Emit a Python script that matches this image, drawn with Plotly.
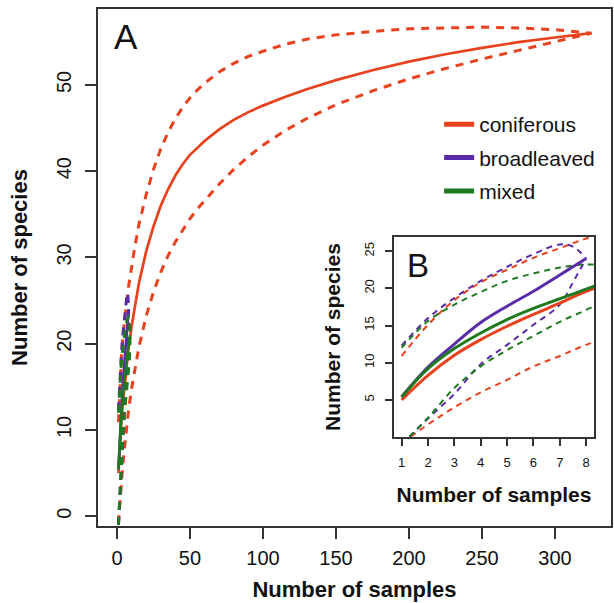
import plotly.graph_objects as go

# ---------------- data ----------------
con_x = [1, 2, 3, 4, 5, 6, 7, 8, 10, 12, 15, 20, 25, 30, 35, 40, 45, 50, 55, 60, 70,
         80, 90, 100, 115, 130, 150, 175, 200, 225, 250, 275, 300, 325]
con_mean = [5.0, 8.3, 11.0, 13.1, 14.9, 16.5, 18.0, 19.6, 22.0, 24.2, 27.0, 30.7,
            33.6, 36.0, 37.9, 39.5, 40.8, 41.9, 42.75, 43.5, 44.85, 45.95, 46.85, 47.6,
            48.6, 49.5, 50.55, 51.7, 52.7, 53.55, 54.3, 54.95, 55.5, 56.0]
con_upper = [10.9, 15.1, 18.4, 20.8, 22.5, 24.1, 25.4, 26.7, 28.9, 31.0, 33.8,
             37.3, 40.2, 42.6, 44.5, 46.1, 47.4, 48.5, 49.4, 50.2, 51.5, 52.5, 53.3,
             53.9, 54.7, 55.3, 55.8, 56.2, 56.5, 56.6, 56.7, 56.6, 56.4, 56.0]
con_lower = [-0.8, 1.7, 4.0, 6.0, 7.7, 9.5, 10.9, 12.4, 14.8, 16.8, 19.6, 23.2,
             26.0, 28.3, 30.2, 31.8, 33.2, 34.5, 35.6, 36.6, 38.5, 40.2, 41.7, 43.0,
             44.7, 46.1, 47.7, 49.3, 50.7, 51.9, 53.0, 54.0, 55.0, 56.0]

brd_x = [1, 2, 3, 4, 5, 6, 7, 7.5, 8]
brd_mean = [5.4, 9.4, 12.5, 15.4, 17.6, 19.6, 21.8, 22.9, 24.0]
brd_upper = [12.3, 16.0, 18.7, 21.0, 22.9, 24.6, 25.9, 25.6, 24.0]
brd_lower = [-1.0, 2.5, 5.8, 9.8, 12.4, 15.1, 17.8, 20.8, 24.0]

mix_x = [1, 2, 3, 4, 5, 6, 7, 8, 8.5, 9]
mix_mean = [5.4, 9.2, 11.9, 14.0, 15.8, 17.3, 18.6, 19.9, 20.5, 21.0]
mix_upper = [12.0, 15.6, 17.8, 19.5, 21.0, 22.0, 22.8, 23.2, 23.0, 21.0]
mix_lower = [-1.0, 2.6, 6.6, 9.5, 11.7, 13.6, 15.5, 17.1, 18.1, 21.0]

main_xticks = [0, 50, 100, 150, 200, 250, 300]
main_yticks = [0, 10, 20, 30, 40, 50]
inset_xticks = [1, 2, 3, 4, 5, 6, 7, 8]
inset_yticks = [5, 10, 15, 20, 25]

names = ["coniferous", "broadleaved", "mixed"]
colors = ["#E8411E", "#5A2CA8", "#1F7A1F"]

series = [
    (con_x, con_mean, con_upper, con_lower),
    (brd_x, brd_mean, brd_upper, brd_lower),
    (mix_x, mix_mean, mix_upper, mix_lower),
]

FONT = "Liberation Sans, Arial, sans-serif"
fig = go.Figure()

# main panel
for (x, m, u, l), c in zip(series, colors):
    for ci in (u, l):
        fig.add_trace(go.Scatter(x=x, y=ci, mode="lines", showlegend=False,
                                 line=dict(color=c, width=3, dash="8px,7px"),
                                 xaxis="x", yaxis="y", hoverinfo="skip"))
    fig.add_trace(go.Scatter(x=x, y=m, mode="lines", showlegend=False,
                             line=dict(color=c, width=2.7),
                             xaxis="x", yaxis="y", hoverinfo="skip"))

# inset panel
for (x, m, u, l), c in zip(series, colors):
    for ci in (u, l):
        fig.add_trace(go.Scatter(x=x, y=ci, mode="lines", showlegend=False,
                                 line=dict(color=c, width=2, dash="6px,5px", shape="spline"),
                                 xaxis="x2", yaxis="y2", hoverinfo="skip"))
for (x, m, u, l), c in zip(series, colors):
    fig.add_trace(go.Scatter(x=x, y=m, mode="lines", showlegend=False,
                             line=dict(color=c, width=3, shape="spline"),
                             xaxis="x2", yaxis="y2", hoverinfo="skip"))

# legend entries
for n, c in zip(names, colors):
    fig.add_trace(go.Scatter(x=[None], y=[None], mode="lines", name=n,
                             legendgroup=n, line=dict(color=c, width=5)))

axis_common = dict(showline=True, mirror=True, linecolor="#333333", linewidth=1.5,
                   ticks="outside", tickcolor="#333333", showgrid=False,
                   zeroline=False, automargin=False)

fig.update_layout(
    width=614, height=603,
    margin=dict(l=98, r=3, t=9, b=77),
    paper_bgcolor="white", plot_bgcolor="white",
    font=dict(family=FONT, color="#111111"),
    xaxis=dict(**axis_common, range=[-13, 338.4], tickvals=main_xticks,
               ticklen=11, tickwidth=1.5, tickfont=dict(size=20), ticklabelstandoff=2,
               title=dict(text="<b>Number of samples</b>", font=dict(size=22), standoff=14),
               domain=[0, 1]),
    yaxis=dict(**axis_common, range=[-1.13, 58.8], tickvals=main_yticks,
               ticklen=11, tickwidth=1.5, tickfont=dict(size=20), tickangle=-90,
               ticklabelstandoff=6,
               title=dict(text="<b>Number of species</b>", font=dict(size=22), standoff=20),
               domain=[0, 1]),
    xaxis2=dict(**axis_common, range=[0.71, 8.3], tickvals=inset_xticks,
                ticklen=7, tickwidth=1.5, tickfont=dict(size=13), anchor="y2",
                ticklabelstandoff=6,
                title=dict(text="<b>Number of samples</b>", font=dict(size=21), standoff=18),
                domain=[0.577, 0.967]),
    yaxis2=dict(**axis_common, range=[0, 26.9], tickvals=inset_yticks,
                ticklen=7, tickwidth=1.5, tickfont=dict(size=13), tickangle=-90,
                anchor="x2", ticklabelstandoff=6,
                title=dict(text="<b>Number of species</b>", font=dict(size=21), standoff=16),
                domain=[0.172, 0.559]),
    legend=dict(x=0.665, y=0.816, xanchor="left", yanchor="top",
                font=dict(size=21, color="#111111"), bgcolor="rgba(0,0,0,0)",
                tracegroupgap=3, traceorder="grouped"),
    annotations=[
        dict(text="A", x=0.0546, y=0.946, xref="paper", yref="paper",
             xanchor="center", yanchor="middle",
             showarrow=False, font=dict(size=35, color="#111111")),
        dict(text="B", x=0.12, y=0.86, xref="x2 domain", yref="y2 domain",
             xanchor="center", yanchor="middle",
             showarrow=False, font=dict(size=33, color="#111111")),
    ],
)

fig.write_html("out.html", config={"displayModeBar": False},
               post_script="document.body.style.margin='0';document.body.style.padding='0';")
